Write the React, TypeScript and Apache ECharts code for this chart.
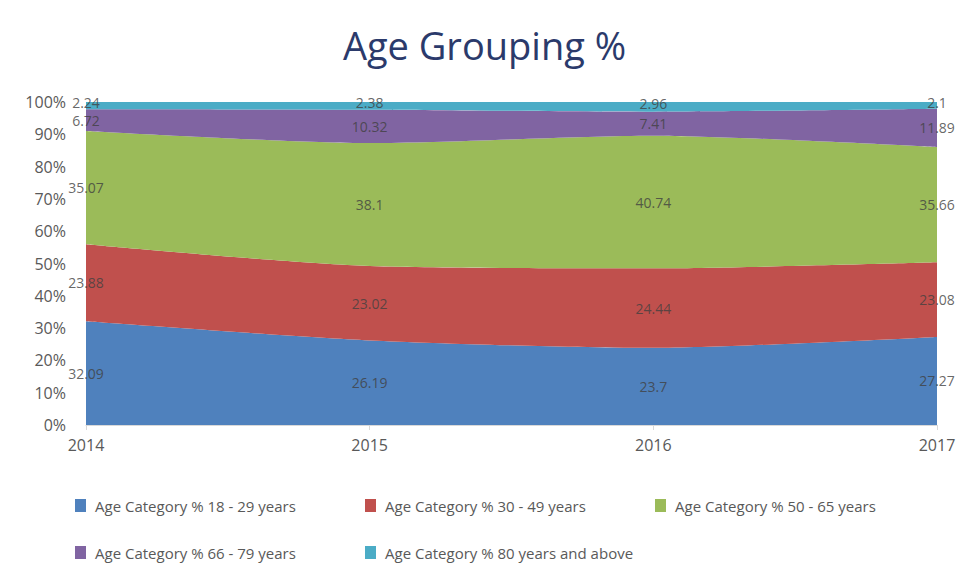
import React, { useEffect, useRef } from "react";
import * as echarts from "echarts";

const years = ["2014", "2015", "2016", "2017"];
const seriesNames = [
  "Age Category % 18 - 29 years",
  "Age Category % 30 - 49 years",
  "Age Category % 50 - 65 years",
  "Age Category % 66 - 79 years",
  "Age Category % 80 years and above",
];
const age18to29 = [32.09, 26.19, 23.7, 27.27];
const age30to49 = [23.88, 23.02, 24.44, 23.08];
const age50to65 = [35.07, 38.1, 40.74, 35.66];
const age66to79 = [6.72, 10.32, 7.41, 11.89];
const age80plus = [2.24, 2.38, 2.96, 2.1];
const colors = ["#4f81bd", "#c0504d", "#9bbb59", "#8064a2", "#4bacc6"];

const FONT = "'Open Sans', 'Liberation Sans', sans-serif";
const legendPos = [
  [70, 493],
  [360, 493],
  [650, 493],
  [70, 540],
  [360, 540],
];

export default function App() {
  const ref = useRef<HTMLDivElement>(null);
  useEffect(() => {
    if (!ref.current) return;
    const chart = echarts.init(ref.current, undefined, { renderer: "svg" });
    const raw = [age18to29, age30to49, age50to65, age66to79, age80plus];
    const totals = years.map((_, i) => raw.reduce((s, arr) => s + arr[i], 0));
    const pct = raw.map((arr) => arr.map((v, i) => (v / totals[i]) * 100));

    const areaSeries = pct.map((arr, k) => ({
      name: seriesNames[k],
      type: "line",
      stack: "total",
      smooth: 0.25,
      symbol: "none",
      lineStyle: { width: 0 },
      areaStyle: { color: colors[k], opacity: 1 },
      itemStyle: { color: colors[k] },
      data: arr,
      z: 2,
    }));

    const labelSeries = pct.map((arr, k) => ({
      name: "lbl" + k,
      type: "scatter",
      symbolSize: 0,
      silent: true,
      z: 5,
      data: arr.map((v, i) => {
        let below = 0;
        for (let j = 0; j < k; j++) below += pct[j][i];
        return {
          value: [years[i], below + v / 2],
          raw: raw[k][i],
        };
      }),
      label: {
        show: true,
        position: "inside",
        offset: k === 4 ? [0, -3] : [0, 0],
        formatter: (p: any) => String(p.data.raw),
        color: "#404040",
        fontSize: 14,
        fontFamily: FONT,
      },
    }));

    const legends = seriesNames.map((n, k) => ({
      data: [n],
      left: legendPos[k][0],
      top: legendPos[k][1],
      itemWidth: 11,
      itemHeight: 13,
      icon: "rect",
      textStyle: {
        color: "#595959",
        fontSize: 15,
        fontFamily: FONT,
        padding: [0, 0, 0, 4],
      },
    }));

    chart.setOption({
      animation: false,
      backgroundColor: "#ffffff",
      title: {
        text: "Age Grouping %",
        left: "center",
        top: 21,
        textStyle: {
          color: "#2b3a6b",
          fontSize: 38,
          fontWeight: "normal",
          fontFamily: FONT,
        },
      },
      grid: { left: 86, right: 32, top: 102, bottom: 152 },
      legend: legends,
      xAxis: {
        type: "category",
        data: years,
        boundaryGap: false,
        axisLine: { lineStyle: { color: "#d9d9d9" } },
        axisTick: { show: true, length: 5, lineStyle: { color: "#d9d9d9" } },
        axisLabel: { color: "#595959", fontSize: 16, fontFamily: FONT, margin: 12 },
      },
      yAxis: {
        type: "value",
        min: 0,
        max: 100,
        interval: 10,
        axisLine: { show: false },
        axisTick: { show: false },
        splitLine: { show: false },
        axisLabel: {
          formatter: "{value}%",
          color: "#595959",
          fontSize: 16,
          fontFamily: FONT,
          margin: 20,
        },
      },
      series: [...areaSeries, ...labelSeries],
    });
    return () => chart.dispose();
  }, []);
  return (
    <div
      ref={ref}
      style={{ position: "fixed", left: 0, top: 0, width: 969, height: 577 }}
    />
  );
}
